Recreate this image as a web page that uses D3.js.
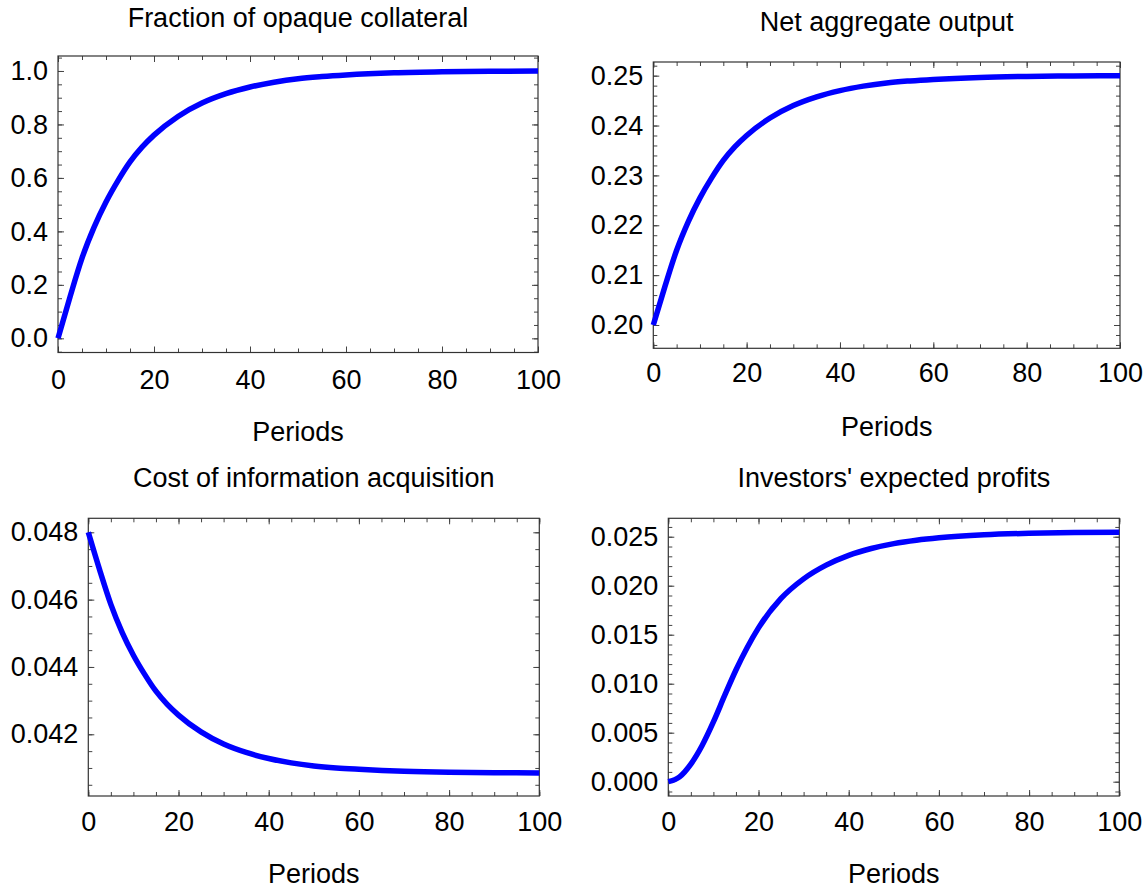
<!DOCTYPE html>
<html>
<head>
<meta charset="utf-8">
<script src="https://cdn.jsdelivr.net/npm/d3@7"></script>
<style>
  body { margin: 0; background: #fff; }
  text { font-family: "Liberation Sans", Arial, sans-serif; fill: #000; }
</style>
</head>
<body>
<div id="chart"></div>
<script>
const periods = [0, 2.5, 5, 7.5, 10, 12.5, 15, 17.5, 20, 25, 30, 35, 40, 45, 50, 55, 60, 70, 80, 90, 100];

// series values
const opaqueFraction = [0, 0.155, 0.30, 0.415, 0.51, 0.59, 0.66, 0.715, 0.76, 0.83, 0.88, 0.915, 0.94, 0.958, 0.971, 0.979, 0.985, 0.993, 0.997, 0.999, 1.0];
const netOutput = [0.2000, 0.20775, 0.2150, 0.22075, 0.2255, 0.2295, 0.2330, 0.23575, 0.2380, 0.2415, 0.2440, 0.24575, 0.2470, 0.2479, 0.24855, 0.24895, 0.24925, 0.24965, 0.24985, 0.24995, 0.2500];
const infoCost = [0.04800, 0.04689, 0.04586, 0.04503, 0.04435, 0.04378, 0.04328, 0.04289, 0.04257, 0.04207, 0.04171, 0.04146, 0.04128, 0.04115, 0.04106, 0.04100, 0.04096, 0.04090, 0.04087, 0.04086, 0.04085];
const investorProfits = [0, 0.0005, 0.0018, 0.0037, 0.0061, 0.0088, 0.0114, 0.0137, 0.0157, 0.0187, 0.0207, 0.0221, 0.0231, 0.0238, 0.0243, 0.02465, 0.0249, 0.0252, 0.02535, 0.02542, 0.02545];

// tick labels
const xMajor = [0, 20, 40, 60, 80, 100];
const xMinor = d3.range(0, 101, 5);

const panels = [
  {title: "Fraction of opaque collateral", values: opaqueFraction,
   yMajor: [0, 0.2, 0.4, 0.6, 0.8, 1.0], yMinorStep: 0.05, fmt: ".1f",
   domain: [-0.053, 1.056], box: {l: 58, r: 538, t: 56, b: 352.5},
   titleY: 27, xlabY: 441, xPad: 17},
  {title: "Net aggregate output", values: netOutput,
   yMajor: [0.20, 0.21, 0.22, 0.23, 0.24, 0.25], yMinorStep: 0.002, fmt: ".2f",
   domain: [0.19533, 0.25274], box: {l: 653.3, r: 1120, t: 62, b: 348.3},
   titleY: 31, xlabY: 436, xPad: 15},
  {title: "Cost of information acquisition", values: infoCost,
   yMajor: [0.042, 0.044, 0.046, 0.048], yMinorStep: 0.0005, fmt: ".3f",
   domain: [0.040167, 0.048416], box: {l: 88.3, r: 539.3, t: 518.3, b: 796},
   titleY: 487, xlabY: 883, xPad: 16},
  {title: "Investors' expected profits", values: investorProfits,
   yMajor: [0, 0.005, 0.010, 0.015, 0.020, 0.025], yMinorStep: 0.001, fmt: ".3f",
   domain: [-0.00146, 0.02688], box: {l: 668.3, r: 1119.3, t: 518.3, b: 796},
   titleY: 487, xlabY: 883, xPad: 16}
];

const width = 1148, height = 894;
const svg = d3.select("#chart").append("svg")
    .attr("width", width)
    .attr("height", height);

const FONT = 27;
const TICK_COLOR = "#444";

function minorTicks(domain, step) {
    const start = Math.ceil(domain[0] / step - 1e-6);
    const end = Math.floor(domain[1] / step + 1e-6);
    return d3.range(start, end + 1).map(k => +(k * step).toFixed(6));
}

panels.forEach(p => {
    const b = p.box;
    const x = d3.scaleLinear().domain([0, 100]).range([b.l, b.r]);
    const y = d3.scaleLinear().domain(p.domain).range([b.b, b.t]);
    const yMinor = minorTicks(p.domain, p.yMinorStep);

    const g = svg.append("g");

    // tick marks on all four sides, pointing inward
    const sides = [
        {axis: d3.axisBottom, scale: x, pos: `translate(0,${b.b})`, major: xMajor, minor: xMinor},
        {axis: d3.axisTop, scale: x, pos: `translate(0,${b.t})`, major: xMajor, minor: xMinor},
        {axis: d3.axisLeft, scale: y, pos: `translate(${b.l},0)`, major: p.yMajor, minor: yMinor},
        {axis: d3.axisRight, scale: y, pos: `translate(${b.r},0)`, major: p.yMajor, minor: yMinor}
    ];
    sides.forEach(s => {
        [[s.minor, -4], [s.major, -6]].forEach(([vals, size]) => {
            const a = g.append("g")
                .attr("transform", s.pos)
                .call(s.axis(s.scale).tickValues(vals).tickSize(size).tickFormat(""));
            a.select(".domain").remove();
            a.selectAll("line").attr("stroke", TICK_COLOR).attr("stroke-width", 1);
        });
    });

    // tick labels
    const xl = g.append("g")
        .attr("transform", `translate(0,${b.b})`)
        .call(d3.axisBottom(x).tickValues(xMajor).tickSize(0).tickPadding(p.xPad).tickFormat(d3.format("d")));
    const yl = g.append("g")
        .attr("transform", `translate(${b.l},0)`)
        .call(d3.axisLeft(y).tickValues(p.yMajor).tickSize(0).tickPadding(10).tickFormat(d3.format(p.fmt)));
    [xl, yl].forEach(a => {
        a.select(".domain").remove();
        a.selectAll("text")
            .style("font-family", "'Liberation Sans', Arial, sans-serif")
            .style("font-size", FONT + "px")
            .attr("fill", "#000");
    });

    // frame
    g.append("rect")
        .attr("x", b.l).attr("y", b.t)
        .attr("width", b.r - b.l).attr("height", b.b - b.t)
        .attr("fill", "none")
        .attr("stroke", "#333")
        .attr("stroke-width", 1.2);

    // curve
    const line = d3.line()
        .x((d, i) => x(periods[i]))
        .y(d => y(d))
        .curve(d3.curveMonotoneX);
    g.append("path")
        .datum(p.values)
        .attr("d", line)
        .attr("fill", "none")
        .attr("stroke", "#0000ff")
        .attr("stroke-width", 5.5);

    // title and x label
    g.append("text")
        .attr("x", (b.l + b.r) / 2)
        .attr("y", p.titleY)
        .attr("text-anchor", "middle")
        .style("font-size", FONT + "px")
        .text(p.title);
    g.append("text")
        .attr("x", (b.l + b.r) / 2)
        .attr("y", p.xlabY)
        .attr("text-anchor", "middle")
        .style("font-size", FONT + "px")
        .text("Periods");
});
</script>
</body>
</html>
